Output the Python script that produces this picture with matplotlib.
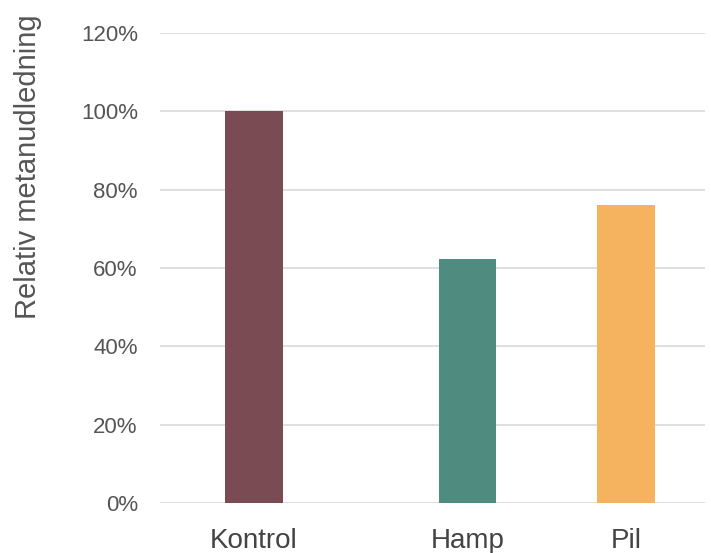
import matplotlib
matplotlib.use("Agg")
import matplotlib.pyplot as plt
from matplotlib.ticker import FuncFormatter

matplotlib.rc('font', family='Liberation Sans')

categories = ["Kontrol", "Hamp", "Pil"]
values = [100, 62.3, 76.1]
colors = ["#7b4b53", "#4f8c7f", "#f6b35f"]
yticks = [0, 20, 40, 60, 80, 100, 120]

# bar centres as axes fractions (spacing is uneven in the original)
xpos = [0.172, 0.564, 0.855]
width = 0.106

fig = plt.figure(figsize=(7.11, 5.53), dpi=100)
ax = fig.add_axes([0.225, 0.0904, 0.767, 0.8496])

ax.bar(xpos, values, width, color=colors, zorder=3)

ax.set_xlim(0, 1)
ax.set_ylim(0, 120)
ax.set_yticks(yticks)
ax.yaxis.set_major_formatter(FuncFormatter(lambda y, p: "%d%%" % y))
ax.set_xticks(xpos)
ax.set_xticklabels(categories)

ax.yaxis.grid(True, color="#d9d9d9", linewidth=1.2, zorder=0)
for s in ax.spines.values():
    s.set_visible(False)

ax.tick_params(axis="both", length=0, colors="#555555")
ax.tick_params(axis="y", labelsize=16, pad=16)
ax.tick_params(axis="x", labelsize=20, pad=18, labelcolor="#444444")

ax.set_ylabel("Relativ metanudledning", fontsize=21, color="#555555")
ax.yaxis.set_label_coords(-0.217, 0.715)

fig.savefig("out.png", dpi=100)
plt.close()
